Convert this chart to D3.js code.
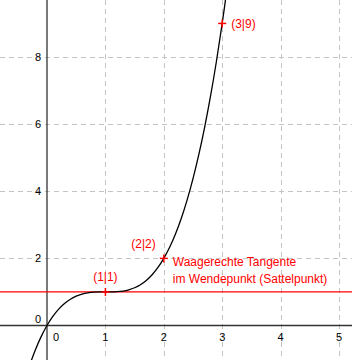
<!DOCTYPE html>
<html>
<head>
<meta charset="utf-8">
<script src="https://cdn.jsdelivr.net/npm/d3@7"></script>
<style>
  body { margin: 0; background: #fff; }
  text { font-family: "Liberation Sans", Arial, sans-serif; }
</style>
</head>
<body>
<div id="vis"></div>
<script>
// curve points
const curveX = [-0.3, -0.2, -0.1, 0, 0.1, 0.2, 0.3, 0.4, 0.5, 0.6, 0.7, 0.8, 0.9, 1.0,
  1.1, 1.2, 1.3, 1.4, 1.5, 1.6, 1.7, 1.8, 1.9, 2.0, 2.1, 2.2, 2.3, 2.4, 2.5, 2.6, 2.7, 2.8, 2.9, 3.0, 3.1];
const curveY = [-1.197, -0.728, -0.331, 0, 0.271, 0.488, 0.657, 0.784, 0.875, 0.936, 0.973, 0.992, 0.999, 1,
  1.001, 1.008, 1.027, 1.064, 1.125, 1.216, 1.343, 1.512, 1.729, 2, 2.331, 2.728, 3.197, 3.744, 4.375, 5.096, 5.913, 6.832, 7.859, 9, 10.261];

const xTicks = [0, 1, 2, 3, 4, 5];
const yTicks = [0, 2, 4, 6, 8];
const tangentY = 1;

const points = [
  {x: 1, y: 1, label: '(1|1)'},
  {x: 2, y: 2, label: '(2|2)'},
  {x: 3, y: 9, label: '(3|9)'}
];
const noteLines = ['Waagerechte Tangente', 'im Wendepunkt (Sattelpunkt)'];

const width = 352, height = 360;

const svg = d3.select('#vis').append('svg')
  .attr('width', width)
  .attr('height', height);

const xScale = d3.scaleLinear().domain([0, 5]).range([47, 339]);
const yScale = d3.scaleLinear().domain([0, 8]).range([325.5, 57]);

svg.append('clipPath').attr('id', 'clip')
  .append('rect').attr('width', width).attr('height', height);

// grid
const grid = svg.append('g')
  .attr('stroke', '#c4c4c4')
  .attr('stroke-width', 1)
  .attr('stroke-dasharray', '5,4');

grid.selectAll('line.vx')
  .data(xTicks.filter(d => d !== 0))
  .enter().append('line')
  .attr('class', 'vx')
  .attr('x1', d => Math.round(xScale(d)) + 0.5)
  .attr('x2', d => Math.round(xScale(d)) + 0.5)
  .attr('y1', 0)
  .attr('y2', height);

grid.selectAll('line.hy')
  .data(yTicks.filter(d => d !== 0))
  .enter().append('line')
  .attr('class', 'hy')
  .attr('y1', d => Math.round(yScale(d)) + 0.5)
  .attr('y2', d => Math.round(yScale(d)) + 0.5)
  .attr('x1', 0)
  .attr('x2', width);

// axes
svg.append('line')
  .attr('x1', 0).attr('x2', width)
  .attr('y1', yScale(0)).attr('y2', yScale(0))
  .attr('stroke', '#333').attr('stroke-width', 1.3);

svg.append('line')
  .attr('x1', xScale(0)).attr('x2', xScale(0))
  .attr('y1', 0).attr('y2', height)
  .attr('stroke', '#333').attr('stroke-width', 1.3);

// tick labels
svg.selectAll('text.xt')
  .data(xTicks)
  .enter().append('text')
  .attr('class', 'xt')
  .attr('x', d => d === 0 ? xScale(d) + 9 : xScale(d))
  .attr('y', yScale(0) + 15)
  .attr('text-anchor', 'middle')
  .attr('font-size', 11)
  .attr('fill', '#000')
  .text(d => d);

svg.selectAll('text.yt')
  .data(yTicks)
  .enter().append('text')
  .attr('class', 'yt')
  .attr('x', xScale(0) - 6)
  .attr('y', d => d === 0 ? yScale(d) - 3 : yScale(d) + 4)
  .attr('text-anchor', 'end')
  .attr('font-size', 11)
  .attr('fill', '#000')
  .text(d => d);

// tangent line
svg.append('line')
  .attr('x1', 0).attr('x2', width)
  .attr('y1', yScale(tangentY)).attr('y2', yScale(tangentY))
  .attr('stroke', '#ff0000').attr('stroke-width', 1.3);

// curve
const line = d3.line()
  .x((d, i) => xScale(curveX[i]))
  .y(d => yScale(d))
  .curve(d3.curveCatmullRom);

svg.append('path')
  .attr('clip-path', 'url(#clip)')
  .attr('d', line(curveY))
  .attr('fill', 'none')
  .attr('stroke', '#000')
  .attr('stroke-width', 1.3);

// point crosses
const cross = svg.selectAll('g.pt')
  .data(points)
  .enter().append('g')
  .attr('class', 'pt')
  .attr('transform', d => 'translate(' + xScale(d.x) + ',' + yScale(d.y) + ')')
  .attr('stroke', '#ff0000')
  .attr('stroke-width', 1.5);
cross.append('line').attr('x1', -4).attr('x2', 4);
cross.append('line').attr('y1', -4).attr('y2', 4);

// point labels
const labelPos = {
  '(1|1)': [0, -11, 'middle'],
  '(2|2)': [-8, -10, 'end'],
  '(3|9)': [9, 5, 'start']
};
svg.selectAll('text.pl')
  .data(points)
  .enter().append('text')
  .attr('class', 'pl')
  .attr('x', d => xScale(d.x) + labelPos[d.label][0])
  .attr('y', d => yScale(d.y) + labelPos[d.label][1])
  .attr('text-anchor', d => labelPos[d.label][2])
  .attr('font-size', 12)
  .attr('fill', '#ff0000')
  .text(d => d.label);

svg.selectAll('text.note')
  .data(noteLines)
  .enter().append('text')
  .attr('class', 'note')
  .attr('x', xScale(2) + 9)
  .attr('y', (d, i) => yScale(2) + 8 + i * 17)
  .attr('font-size', 12)
  .attr('fill', '#ff0000')
  .text(d => d);
</script>
</body>
</html>
